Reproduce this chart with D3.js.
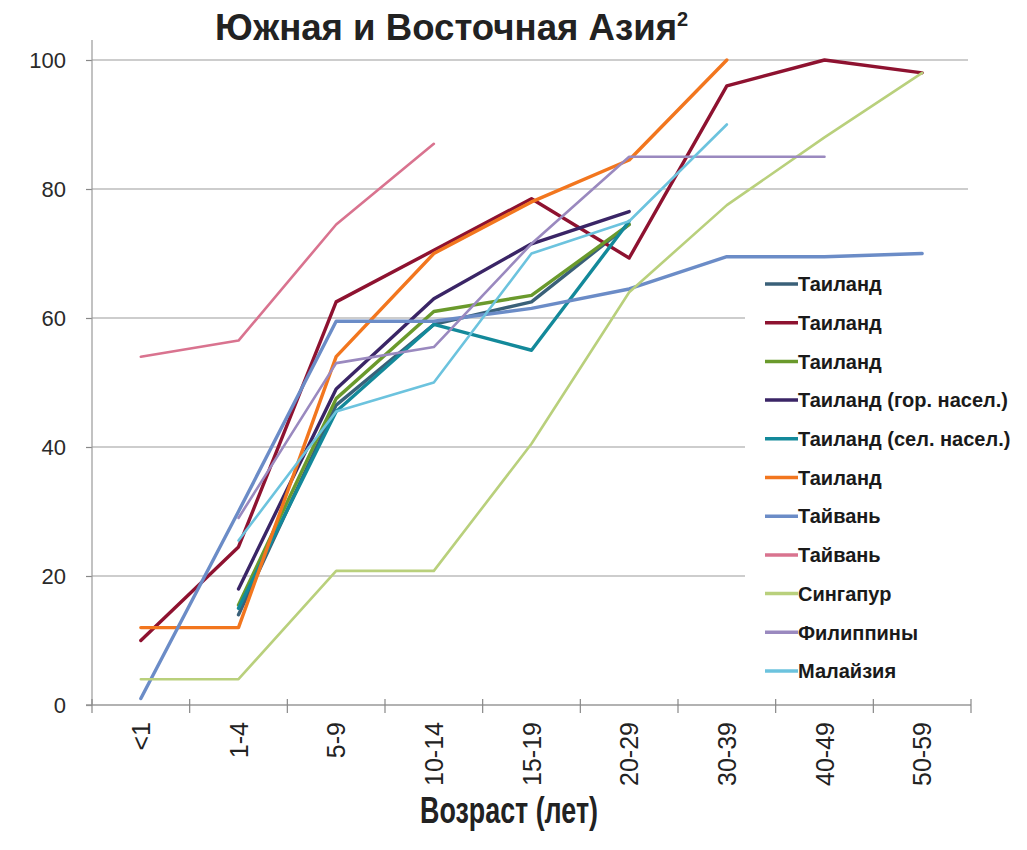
<!DOCTYPE html>
<html>
<head>
<meta charset="utf-8">
<script src="https://cdn.jsdelivr.net/npm/d3@7"></script>
<style>
  html, body { margin: 0; padding: 0; background: #fff; }
  svg { display: block; }
</style>
</head>
<body>
<svg id="chart" width="1027" height="850"></svg>
<script>
// ---- data ----
const categories = ["<1", "1-4", "5-9", "10-14", "15-19", "20-29", "30-39", "40-49", "50-59"];
const yTicks = [0, 20, 40, 60, 80, 100];

const seriesNames = [
  "Таиланд", "Таиланд", "Таиланд", "Таиланд (гор. насел.)", "Таиланд (сел. насел.)",
  "Таиланд", "Тайвань", "Тайвань", "Сингапур", "Филиппины", "Малайзия"
];
const seriesColors = [
  "#3a6079", "#8e1230", "#6a9a2c", "#3a2566", "#13899a",
  "#f2761e", "#6b8cc7", "#d9738f", "#b9d07c", "#9a89bf", "#6cc3de"
];

const thai1      = [null, 14, 46.5, 59, 62.5, 74.5, null, null, null];
const thai2      = [10, 24.5, 62.5, 70.5, 78.5, 69.3, 96, 100, 98];
const thai3      = [null, 15.5, 47.5, 61, 63.5, 74.5, null, null, null];
const thaiUrban  = [null, 18, 49, 63, 71.5, 76.5, null, null, null];
const thaiRural  = [null, 15, 45.5, 59, 55, 75, null, null, null];
const thai6      = [12, 12, 54, 70, 78, 84.5, 100, null, null];
const taiwan1    = [1, 30, 59.5, 59.5, 61.5, 64.5, 69.5, 69.5, 70];
const taiwan2    = [54, 56.5, 74.5, 87, null, null, null, null, null];
const singapore  = [4, 4, 20.8, 20.8, 40.5, 64, 77.5, 88, 98];
const philippines= [null, 29, 53, 55.5, 71.5, 85, 85, 85, null];
const malaysia   = [null, 25.5, 45.5, 50, 70, 75, 90, null, null];

const seriesValues = [thai1, thai2, thai3, thaiUrban, thaiRural, thai6,
                      taiwan1, taiwan2, singapore, philippines, malaysia];

// ---- layout ----
const svg = d3.select("#chart");
const pLeft = 92, pRight = 971, pTop = 60, pBottom = 705;

const x = d3.scaleBand().domain(categories).range([pLeft, pRight]);
const cx = c => x(c) + x.bandwidth() / 2;
const y = d3.scaleLinear().domain([0, 100]).range([pBottom, pTop]);

// gridlines
svg.append("g").selectAll("line").data(yTicks.filter(d => d > 0)).join("line")
  .attr("x1", pLeft).attr("x2", 968)
  .attr("y1", d => y(d)).attr("y2", d => y(d))
  .attr("stroke", "#bdbdbd").attr("stroke-width", 1.5);

// y axis
const yAxis = svg.append("g").attr("transform", `translate(${pLeft},0)`)
  .call(d3.axisLeft(y).tickValues(yTicks).tickSize(6).tickPadding(20));
yAxis.select(".domain").remove();
yAxis.selectAll(".tick line").attr("stroke", "#888").attr("stroke-width", 1.2);
yAxis.selectAll("text")
  .attr("font-family", "'Liberation Sans', Arial, sans-serif")
  .attr("font-size", 22).attr("fill", "#2a2a2a");
svg.append("line").attr("x1", pLeft).attr("x2", pLeft).attr("y1", 40).attr("y2", pBottom)
  .attr("stroke", "#999").attr("stroke-width", 1.2);

// x axis
const xAxis = svg.append("g").attr("transform", `translate(0,${pBottom})`)
  .call(d3.axisBottom(x).tickSize(0).tickPadding(0));
xAxis.select(".domain").remove();
xAxis.selectAll(".tick line").remove();
xAxis.selectAll(".tick text")
  .attr("font-family", "'Liberation Sans', Arial, sans-serif")
  .attr("font-size", 25).attr("fill", "#222")
  .attr("text-anchor", "end")
  .attr("transform", "translate(0,17) rotate(-90)")
  .attr("x", 0).attr("y", 0).attr("dy", "0.36em");
svg.append("line").attr("x1", 86).attr("x2", pRight).attr("y1", pBottom).attr("y2", pBottom)
  .attr("stroke", "#999").attr("stroke-width", 1.5);
const bounds = categories.map(c => x(c)).concat([pRight]);
svg.append("g").selectAll("line").data(bounds).join("line")
  .attr("x1", d => d).attr("x2", d => d)
  .attr("y1", pBottom - 6).attr("y2", pBottom + 8)
  .attr("stroke", "#888").attr("stroke-width", 1.2);

// lines
const line = d3.line()
  .defined(d => d.v != null)
  .x(d => cx(d.c)).y(d => y(d.v));

seriesValues.forEach((vals, i) => {
  const pts = categories.map((c, k) => ({ c, v: vals[k] }));
  svg.append("path")
    .attr("d", line(pts))
    .attr("fill", "none")
    .attr("stroke", seriesColors[i])
    .attr("stroke-width", (i === 7 || i === 8 || i === 10 || i === 9) ? 2.6 : 3.4)
    .attr("stroke-linejoin", "round")
    .attr("stroke-linecap", "round");
});

// legend
const lg = svg.append("g");
lg.append("rect").attr("x", 745).attr("y", 264).attr("width", 282).attr("height", 428)
  .attr("fill", "#fff");
const lgItems = lg.selectAll("g.item").data(seriesNames).join("g")
  .attr("class", "item")
  .attr("transform", (d, i) => `translate(0,${284 + i * 38.7})`);
lgItems.append("line").attr("x1", 765).attr("x2", 798).attr("y1", 0).attr("y2", 0)
  .attr("stroke", (d, i) => seriesColors[i]).attr("stroke-width", 3.5);
lgItems.append("text").attr("x", 798).attr("y", 0).attr("dy", "0.36em")
  .attr("font-family", "'Liberation Sans', Arial, sans-serif")
  .attr("font-weight", "bold").attr("font-size", 20).attr("fill", "#1a1a1a")
  .text(d => d);

// title
const title = svg.append("text").attr("x", 215).attr("y", 40)
  .attr("font-family", "'Liberation Sans', Arial, sans-serif")
  .attr("font-weight", "bold").attr("fill", "#222");
title.append("tspan").attr("font-size", 36)
  .attr("textLength", 462).attr("lengthAdjust", "spacingAndGlyphs")
  .text("Южная и Восточная Азия");
title.append("tspan").attr("font-size", 20).attr("dy", -14).text("2");

// x axis title
svg.append("text").attr("x", 420).attr("y", 823)
  .attr("font-family", "'Liberation Sans', Arial, sans-serif")
  .attr("font-weight", "bold").attr("font-size", 36).attr("fill", "#222")
  .attr("textLength", 178).attr("lengthAdjust", "spacingAndGlyphs")
  .text("Возраст (лет)");
</script>
</body>
</html>
